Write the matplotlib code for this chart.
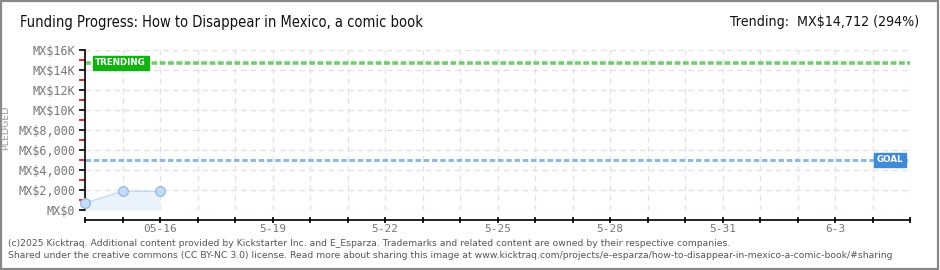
import matplotlib
matplotlib.use("Agg")
import matplotlib.pyplot as plt
import matplotlib.dates as mdates
import pandas as pd
from matplotlib.patches import Rectangle

# ---- data ----
dates = ["2025-05-14", "2025-05-15", "2025-05-16"]
pledged = [700, 1870, 1870]
goal = 5000
trending = 14712
x_start = "2025-05-14"
x_end = "2025-06-05"
ytick_vals = [0, 2000, 4000, 6000, 8000, 10000, 12000, 14000, 16000]
ytick_labels = ["MX$0", "MX$2,000", "MX$4,000", "MX$6,000", "MX$8,000",
                "MX$10K", "MX$12K", "MX$14K", "MX$16K"]
xlabel_dates = ["2025-05-16", "2025-05-19", "2025-05-22", "2025-05-25",
                "2025-05-28", "2025-05-31", "2025-06-03"]
xlabel_texts = ["05-16", "5-19", "5-22", "5-25", "5-28", "5-31", "6-3"]

title = "Funding Progress: How to Disappear in Mexico, a comic book"
trend_text = "Trending:  MX$14,712 (294%)"
footer1 = ("(c)2025 Kicktraq. Additional content provided by Kickstarter Inc. and E_Esparza. "
           "Trademarks and related content are owned by their respective companies.")
footer2 = ("Shared under the creative commons (CC BY-NC 3.0) license. Read more about sharing this image at "
           "www.kicktraq.com/projects/e-esparza/how-to-disappear-in-mexico-a-comic-book/#sharing")

W, H = 940, 270
fig = plt.figure(figsize=(W / 100, H / 100), dpi=100)
fig.patch.set_facecolor("white")

# figure border
fig.add_artist(Rectangle((0.001, 0.002), 0.997, 0.995, transform=fig.transFigure,
                         fill=False, edgecolor="#888888", linewidth=1.6))

left, right, top, bottom = 85, 910, 50, 210
ax = fig.add_axes([left / W, 1 - bottom / H, (right - left) / W, (bottom - top) / H])

d = pd.to_datetime(dates)
x0, x1 = pd.Timestamp(x_start), pd.Timestamp(x_end)
ax.set_xlim(x0, x1)
ax.set_ylim(0, 16000)

# grid
ax.xaxis.set_major_locator(mdates.DayLocator())
ax.set_yticks(ytick_vals)
ax.set_yticks([v + 1000 for v in ytick_vals[:-1]], minor=True)
ax.grid(True, which="major", color="#e2e2e2", linestyle=(0, (4, 3)), linewidth=1.0)
ax.set_axisbelow(True)

# goal & trending lines
ax.axhline(trending, color="#6fcf6f", linewidth=2.6, linestyle=(0, (1.6, 0.7)), zorder=2)
ax.axhline(goal, color="#93b8e4", linewidth=2.2, linestyle=(0, (1.8, 0.9)), zorder=2)

# data
ax.fill_between(d, pledged, 0, color="#eaf2fc", zorder=3, linewidth=0)
ax.plot(d, pledged, color="#c4daf4", linewidth=1.0, zorder=4)
ax.plot(d, pledged, linestyle="none", marker="o", markersize=7, clip_on=False,
        markerfacecolor="#c4dcf6", markeredgecolor="#8fb2dc", markeredgewidth=0.8, zorder=5)

# labels on lines
font = ["DejaVu Sans"]
ax.text(pd.Timestamp("2025-05-14") + pd.Timedelta(hours=6.5), trending, "TRENDING",
        color="white", fontsize=6.3, fontweight="bold", va="center", ha="left", family=font,
        zorder=6, bbox=dict(boxstyle="square,pad=0.3", fc="#12b212", ec="#12b212"))
ax.text(pd.Timestamp("2025-06-05") - pd.Timedelta(hours=4.5), goal, "GOAL",
        color="white", fontsize=6.3, fontweight="bold", va="center", ha="right", family=font,
        zorder=6, bbox=dict(boxstyle="square,pad=0.3", fc="#3f8ad9", ec="#3f8ad9"))

# spines
for s in ["top", "right"]:
    ax.spines[s].set_visible(False)
ax.spines["bottom"].set_position(("outward", 7.4))
ax.spines["bottom"].set_linewidth(1.2)
ax.spines["left"].set_linewidth(1.2)

ax.set_yticklabels(ytick_labels)
ax.tick_params(axis="y", which="major", direction="out", length=4, width=1.2,
               colors="black", labelcolor="#777777", labelsize=8.5, pad=3)
ax.tick_params(axis="y", which="minor", direction="out", length=4, width=1.2, colors="#e00000")
for lab in ax.get_yticklabels():
    lab.set_family(["DejaVu Sans Mono"])

ax.tick_params(axis="x", which="major", direction="inout", length=5, width=1.2,
               colors="black", labelsize=0)
ax.set_xticklabels([])
for xd, xt in zip(xlabel_dates, xlabel_texts):
    ax.annotate(xt, xy=(pd.Timestamp(xd), 0), xycoords=("data", "axes fraction"),
                xytext=(0, -14), textcoords="offset points", ha="center", va="center",
                fontsize=8, color="#777777", family=["DejaVu Sans Mono"])

fig.text(6 / W, 1 - 128 / H, "PLEDGED", rotation=90, fontsize=6.8, color="#999999",
         ha="center", va="center", family=font)

fig.text(20 / W, 1 - 22 / H, title, fontsize=10.5, ha="left", va="center",
         family=["DejaVu Sans"], fontstretch="condensed", color="#111111")
fig.text(919 / W, 1 - 22 / H, trend_text, fontsize=10.2, ha="right", va="center",
         family=["DejaVu Sans"], fontstretch="condensed", color="#111111")

fig.text(8 / W, 1 - 243 / H, footer1, fontsize=6.7, color="#555555", ha="left", va="center",
         family=["DejaVu Sans"])
fig.text(8 / W, 1 - 256 / H, footer2, fontsize=6.7, color="#555555", ha="left", va="center",
         family=["DejaVu Sans"])

fig.savefig("out.png", dpi=100, facecolor="white")
